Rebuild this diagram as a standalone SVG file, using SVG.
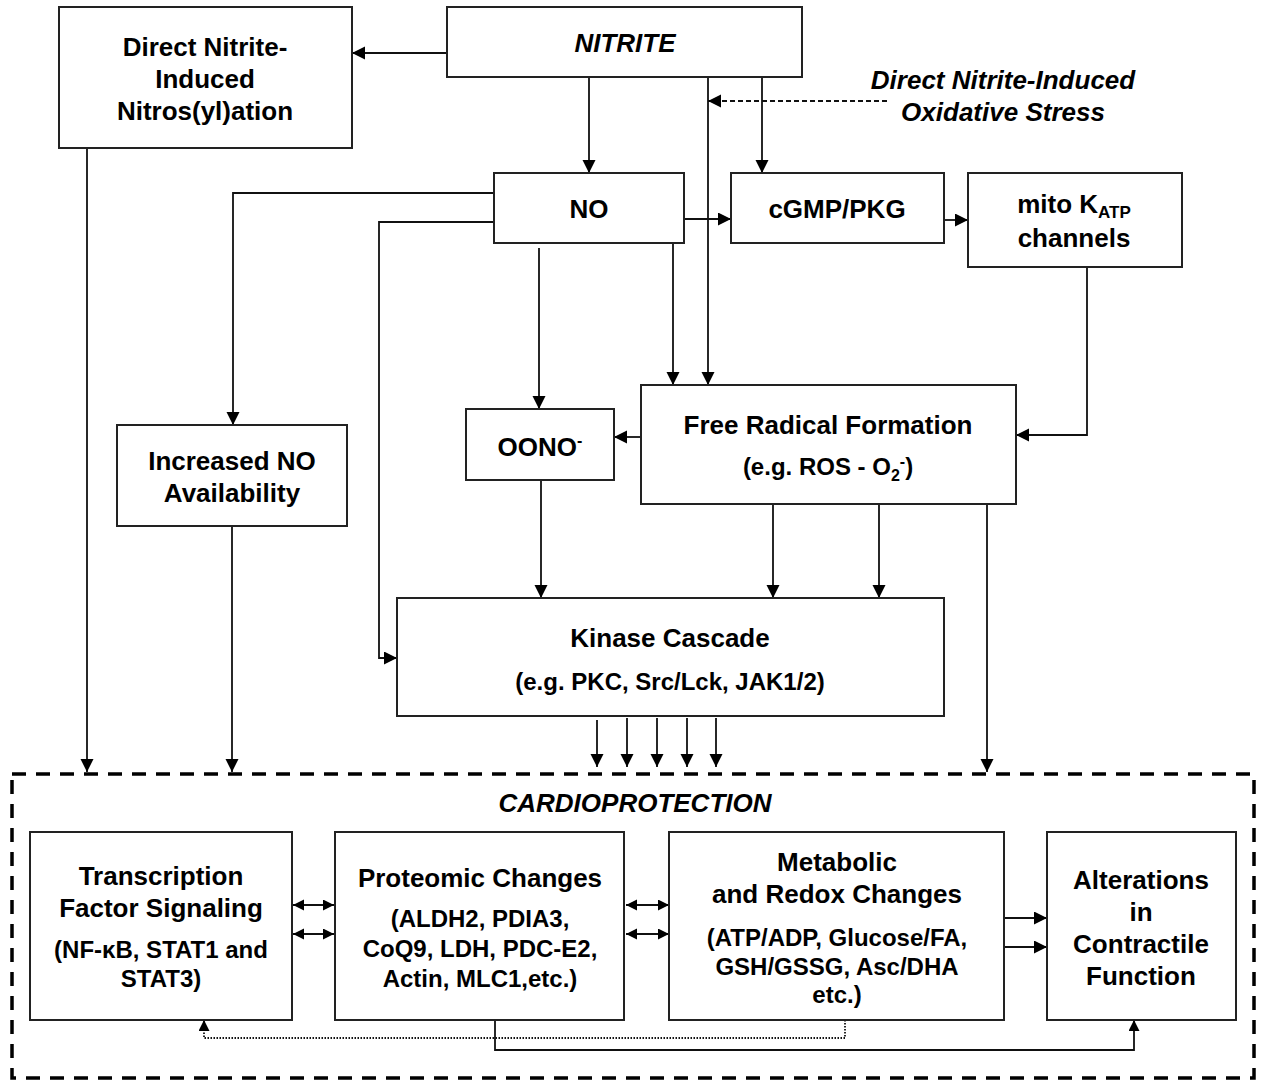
<svg xmlns="http://www.w3.org/2000/svg" width="1264" height="1083" viewBox="0 0 1264 1083">
<defs>
<marker id="ah" markerUnits="userSpaceOnUse" markerWidth="14" markerHeight="14" refX="13" refY="6.5" orient="auto-start-reverse"><path d="M0,0 L13,6.5 L0,13 z" fill="#000"/></marker>
<marker id="ahs" markerUnits="userSpaceOnUse" markerWidth="12" markerHeight="12" refX="11" refY="5.5" orient="auto-start-reverse"><path d="M0,0 L11,5.5 L0,11 z" fill="#000"/></marker>
</defs>
<style>
.box{fill:#fff;stroke:#222;stroke-width:2}
text{font-family:"Liberation Sans",Arial,sans-serif;font-weight:bold;fill:#000;text-anchor:middle}
.t{font-size:26px}
.s{font-size:24px}
.i{font-style:italic}
.c{fill:none;stroke:#111;stroke-width:1.8}
</style>
<rect width="1264" height="1083" fill="#fff"/>

<g id="cardioprotection">
<rect x="12" y="774" width="1242" height="304" fill="none" stroke="#000" stroke-width="3.5" stroke-dasharray="14,10"/>
<text class="t i" x="635" y="812">CARDIOPROTECTION</text>
</g>

<g id="connectors">
<path class="c" d="M447,53 H352" marker-end="url(#ah)"/>
<path class="c" d="M589,78 V173" marker-end="url(#ah)"/>
<path class="c" d="M762,76 V173" marker-end="url(#ah)"/>
<path class="c" d="M708,78 V385" marker-end="url(#ah)"/>
<path class="c" d="M887,101 H708" stroke-dasharray="5,3" marker-end="url(#ah)"/>
<path class="c" d="M684,219 H731" marker-end="url(#ah)"/>
<path class="c" d="M944,220 H968" marker-end="url(#ah)"/>
<path class="c" d="M494,193 H233 V425" marker-end="url(#ah)"/>
<path class="c" d="M494,222 H379 V658 H397" marker-end="url(#ah)"/>
<path class="c" d="M539,248 V409" marker-end="url(#ah)"/>
<path class="c" d="M673,243 V385" marker-end="url(#ah)"/>
<path class="c" d="M1087,267 V435 H1016" marker-end="url(#ah)"/>
<path class="c" d="M641,437 H614" marker-end="url(#ah)"/>
<path class="c" d="M541,480 V598" marker-end="url(#ah)"/>
<path class="c" d="M773,504 V598" marker-end="url(#ah)"/>
<path class="c" d="M879,504 V598" marker-end="url(#ah)"/>
<path class="c" d="M987,504 V772" marker-end="url(#ah)"/>
<path class="c" d="M87,148 V772" marker-end="url(#ah)"/>
<path class="c" d="M232,526 V772" marker-end="url(#ah)"/>
<path class="c" d="M597,720 V767" marker-end="url(#ah)"/>
<path class="c" d="M627,718 V767" marker-end="url(#ah)"/>
<path class="c" d="M657,718 V767" marker-end="url(#ah)"/>
<path class="c" d="M687,718 V767" marker-end="url(#ah)"/>
<path class="c" d="M716,718 V767" marker-end="url(#ah)"/>
<path class="c" d="M293,905 H334" marker-start="url(#ahs)" marker-end="url(#ahs)"/>
<path class="c" d="M293,934 H334" marker-start="url(#ahs)" marker-end="url(#ahs)"/>
<path class="c" d="M626,905 H669" marker-start="url(#ahs)" marker-end="url(#ahs)"/>
<path class="c" d="M626,934 H669" marker-start="url(#ahs)" marker-end="url(#ahs)"/>
<path class="c" d="M1004,918 H1047" marker-end="url(#ah)"/>
<path class="c" d="M1004,947 H1047" marker-end="url(#ah)"/>
<path class="c" d="M845,1020 V1038 H204 V1020" stroke-width="1.3" stroke-dasharray="1.5,1.5" marker-end="url(#ahs)"/>
<path class="c" d="M495,1020 V1050 H1134 V1020" stroke-width="1.5" marker-end="url(#ahs)"/>
</g>

<g id="direct-nitrosylation">
<rect class="box" x="59" y="7" width="293" height="141"/>
<text class="t" x="205" y="56">Direct Nitrite-</text>
<text class="t" x="205" y="88">Induced</text>
<text class="t" x="205" y="120">Nitros(yl)ation</text>
</g>

<g id="nitrite">
<rect class="box" x="447" y="7" width="355" height="70"/>
<text class="t i" x="625" y="52">NITRITE</text>
</g>

<g id="oxidative-stress-label">
<text class="t i" x="1003" y="89">Direct Nitrite-Induced</text>
<text class="t i" x="1003" y="121">Oxidative Stress</text>
</g>

<g id="no">
<rect class="box" x="494" y="173" width="190" height="70"/>
<text class="t" x="589" y="218">NO</text>
</g>

<g id="cgmp-pkg">
<rect class="box" x="731" y="173" width="213" height="70"/>
<text class="t" x="837" y="218">cGMP/PKG</text>
</g>

<g id="mito-katp">
<rect class="box" x="968" y="173" width="214" height="94"/>
<text class="t" x="1074" y="213">mito K<tspan font-size="17" dy="5">ATP</tspan></text>
<text class="t" x="1074" y="247">channels</text>
</g>

<g id="increased-no">
<rect class="box" x="117" y="425" width="230" height="101"/>
<text class="t" x="232" y="470">Increased NO</text>
<text class="t" x="232" y="502">Availability</text>
</g>

<g id="oono">
<rect class="box" x="466" y="409" width="148" height="71"/>
<text class="t" x="540" y="456">OONO<tspan font-size="16" dy="-10">-</tspan></text>
</g>

<g id="free-radical">
<rect class="box" x="641" y="385" width="375" height="119"/>
<text class="t" x="828" y="434">Free Radical Formation</text>
<text class="s" x="828" y="475">(e.g. ROS - O<tspan font-size="16" dy="6">2</tspan><tspan font-size="16" dy="-14">-</tspan><tspan dy="8">)</tspan></text>
</g>

<g id="kinase-cascade">
<rect class="box" x="397" y="598" width="547" height="118"/>
<text class="t" x="670" y="647">Kinase Cascade</text>
<text class="s" x="670" y="690">(e.g. PKC, Src/Lck, JAK1/2)</text>
</g>

<g id="transcription">
<rect class="box" x="30" y="832" width="262" height="188"/>
<text class="t" x="161" y="885">Transcription</text>
<text class="t" x="161" y="917">Factor Signaling</text>
<text class="s" x="161" y="958">(NF-κB, STAT1 and</text>
<text class="s" x="161" y="987">STAT3)</text>
</g>

<g id="proteomic">
<rect class="box" x="335" y="832" width="289" height="188"/>
<text class="t" x="480" y="887">Proteomic Changes</text>
<text class="s" x="480" y="927">(ALDH2, PDIA3,</text>
<text class="s" x="480" y="957">CoQ9, LDH, PDC-E2,</text>
<text class="s" x="480" y="987">Actin, MLC1,etc.)</text>
</g>

<g id="metabolic">
<rect class="box" x="669" y="832" width="335" height="188"/>
<text class="t" x="837" y="871">Metabolic</text>
<text class="t" x="837" y="903">and Redox Changes</text>
<text class="s" x="837" y="946">(ATP/ADP, Glucose/FA,</text>
<text class="s" x="837" y="975">GSH/GSSG, Asc/DHA</text>
<text class="s" x="837" y="1003">etc.)</text>
</g>

<g id="alterations">
<rect class="box" x="1047" y="832" width="189" height="188"/>
<text class="t" x="1141" y="889">Alterations</text>
<text class="t" x="1141" y="921">in</text>
<text class="t" x="1141" y="953">Contractile</text>
<text class="t" x="1141" y="985">Function</text>
</g>
</svg>
